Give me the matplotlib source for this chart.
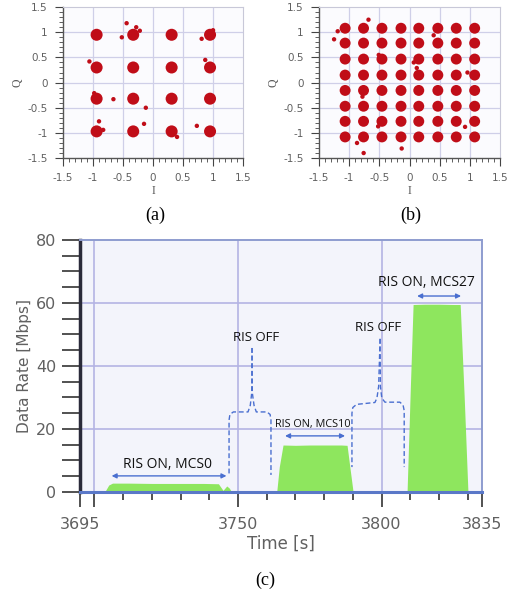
import numpy as np
import matplotlib
matplotlib.use("Agg")
from matplotlib import pyplot as plt

# ---- constellation data (a): 16-QAM ----
qam16_i = [-0.94, -0.33, 0.31, 0.95]
qam16_q = [0.95, 0.30, -0.32, -0.97]
out16_i = [-0.44, -0.52, -0.28, -0.22, -1.06, 0.87, -0.98, -0.66, -0.12, -0.15, -0.90, -0.83, 0.40, 0.73, 0.81, 1.00]
out16_q = [1.18, 0.90, 1.10, 1.03, 0.42, 0.45, -0.21, -0.33, -0.50, -0.82, -0.77, -0.94, -1.08, -0.86, 0.87, 1.04]

# ---- constellation data (b): 64-QAM ----
qam64_i = [-1.067, -0.762, -0.457, -0.141, 0.153, 0.469, 0.774, 1.079]
qam64_q = [1.08, 0.785, 0.467, 0.149, -0.156, -0.47, -0.77, -1.08]
out64_i = [-0.68, -1.25, -1.19, -0.78, -0.87, -0.76, -0.13, -0.52, 0.92, 0.96, 0.40, -0.51, 0.12, 0.07]
out64_q = [1.25, 0.86, 1.02, -0.28, -1.20, -1.40, -1.31, -0.87, -0.88, 0.20, 0.94, 0.55, 0.29, 0.40]

# ---- data rate (c) ----
t_mcs0 = [3703.6, 3705.0, 3706.3, 3712, 3720, 3730, 3738, 3743.2, 3744.8, 3746.1, 3747.0, 3747.8]
r_mcs0 = [0, 2.2, 2.8, 2.8, 2.7, 2.7, 2.7, 2.6, 0.5, 1.9, 1.2, 0]
t_mcs10 = [3763.5, 3764.4, 3765.7, 3770, 3775, 3780, 3786, 3788.0, 3789.1, 3790.1]
r_mcs10 = [0, 8, 14.9, 14.8, 14.9, 14.9, 14.9, 14.8, 7, 0]
t_mcs27 = [3808.9, 3810.0, 3811.0, 3815, 3820, 3825, 3827.4, 3828.8, 3830.1]
r_mcs27 = [0, 32, 59.5, 59.6, 59.6, 59.5, 59.5, 30, 0]

RED = "#c00d18"
GREEN = "#8ee65e"
BLUE = "#4a6fd0"
TICK_GRAY = "#606060"

fig = plt.figure(figsize=(5.13, 5.92), dpi=100)


def style_const(ax):
    ax.set_facecolor("#fbfbfe")
    ax.set_xlim(-1.5, 1.5)
    ax.set_ylim(-1.5, 1.5)
    ticks = [-1.5, -1, -0.5, 0, 0.5, 1, 1.5]
    ax.set_xticks(ticks)
    ax.set_yticks(ticks)
    ax.set_xticklabels(["-1.5", "-1", "-0.5", "0", "0.5", "1", "1.5"])
    ax.set_yticklabels(["-1.5", "-1", "-0.5", "0", "0.5", "1", "1.5"])
    ax.set_xticks(np.arange(-1.5, 1.51, 0.1), minor=True)
    ax.set_yticks(np.arange(-1.5, 1.51, 0.1), minor=True)
    ax.tick_params(which="major", length=6, width=0.8, color="#444", labelsize=7.5,
                   labelcolor=TICK_GRAY, pad=5)
    ax.tick_params(which="minor", length=3, width=0.6, color="#444")
    for x in [-1, -0.5, 0, 0.5, 1]:
        ax.axvline(x, color="#cfcfe8", lw=0.9, zorder=0)
        ax.axhline(x, color="#cfcfe8", lw=0.9, zorder=0)
    for s in ["left", "bottom"]:
        ax.spines[s].set_color("#555")
        ax.spines[s].set_linewidth(1.0)
    for s in ["top", "right"]:
        ax.spines[s].set_color("#c8c8d8")
        ax.spines[s].set_linewidth(0.8)
    ax.set_xlabel("I", family="Liberation Serif", fontsize=8.5, color="#555", labelpad=1)
    ax.set_ylabel("Q", family="Liberation Serif", fontsize=8.5, color="#555", labelpad=3)


ax_a = fig.add_axes([0.1228, 0.733, 0.351, 0.255])
gi, gq = np.meshgrid(qam16_i, qam16_q)
ax_a.scatter(gi.ravel(), gq.ravel(), s=75, color=RED, edgecolors="none", zorder=3)
ax_a.scatter(out16_i, out16_q, s=10, color=RED, edgecolors="none", zorder=3)
style_const(ax_a)

ax_b = fig.add_axes([0.6218, 0.733, 0.353, 0.255])
gi, gq = np.meshgrid(qam64_i, qam64_q)
ax_b.scatter(gi.ravel(), gq.ravel(), s=62, color=RED, edgecolors="none", zorder=3)
ax_b.scatter(out64_i, out64_q, s=10, color=RED, edgecolors="none", zorder=3)
style_const(ax_b)

fig.text(155 / 513, 1 - 215 / 592, "(a)", family="Liberation Serif", fontsize=13,
         ha="center", va="center")
fig.text(411 / 513, 1 - 215 / 592, "(b)", family="Liberation Serif", fontsize=13,
         ha="center", va="center")

# ---- panel (c) ----
ax = fig.add_axes([0.156, 0.169, 0.7836, 0.4257])
ax.set_facecolor("#f3f4fb")
ax.set_xlim(3695, 3835)
ax.set_ylim(0, 80)
for x in [3700, 3750, 3800]:
    ax.axvline(x, color="#b4b4e4", lw=1.2, zorder=0)
for y in [20, 40, 60]:
    ax.axhline(y, color="#b4b4e4", lw=1.2, zorder=0)

for t, r in [(t_mcs0, r_mcs0), (t_mcs10, r_mcs10), (t_mcs27, r_mcs27)]:
    ax.fill_between(t, r, 0, color=GREEN, lw=0, zorder=2)

ax.set_xticks([3695, 3700, 3750, 3800, 3835])
ax.set_xticklabels(["3695", "", "3750", "3800", "3835"])
ax.set_xticks([v for v in range(3710, 3831, 10) if v not in (3750, 3800)], minor=True)
ax.set_yticks([0, 20, 40, 60, 80])
ax.set_yticks(range(0, 81, 5), minor=True)
ax.tick_params(axis="x", which="major", length=11, width=1.2, color="#333",
               labelsize=11.5, labelcolor=TICK_GRAY, pad=7)
ax.tick_params(axis="x", which="minor", length=6, width=1.2, color="#333")
ax.tick_params(axis="y", which="both", length=13, width=1.2, color="#333",
               labelsize=11.5, labelcolor=TICK_GRAY, pad=4)
ax.spines["left"].set_color("#2a2a3a")
ax.spines["left"].set_linewidth(2.5)
ax.spines["bottom"].set_color("#5a78c8")
ax.spines["bottom"].set_linewidth(2.2)
for s in ["top", "right"]:
    ax.spines[s].set_color("#8e9ccf")
    ax.spines[s].set_linewidth(1.4)
ax.set_ylabel("Data Rate [Mbps]", fontsize=11, color=TICK_GRAY, labelpad=3)
ax.set_xlabel("Time [s]", fontsize=12, color=TICK_GRAY, labelpad=2)

txt = dict(family="Open Sans", color="#111", ha="center", va="center")
ax.text(3725.6, 8.8, "RIS ON, MCS0", fontsize=10, **txt)
ax.text(3756.3, 48.9, "RIS OFF", fontsize=9.5, **txt)
ax.text(3776.1, 21.4, "RIS ON, MCS10", fontsize=7.8, **txt)
ax.text(3798.8, 52.2, "RIS OFF", fontsize=9.5, **txt)
ax.text(3815.5, 66.4, "RIS ON, MCS27", fontsize=10, **txt)

arrow = dict(arrowstyle="<|-|>", color=BLUE, lw=1.0, mutation_scale=7,
             shrinkA=0, shrinkB=0)
ax.annotate("", xy=(3706, 5.1), xytext=(3746, 5.1), arrowprops=arrow)
ax.annotate("", xy=(3766.4, 17.8), xytext=(3787.3, 17.8), arrowprops=arrow)
ax.annotate("", xy=(3812.4, 62.2), xytext=(3827.7, 62.2), arrowprops=arrow)

# dashed brace-like connectors pointing to the "RIS OFF" labels
brace1_left_x = [3754.9, 3754.8, 3754.3, 3753.5, 3748.4, 3747.2, 3746.9, 3746.9]
brace1_left_y = [45.7, 31.5, 27.5, 25.4, 25.4, 24.6, 22.8, 5.4]
brace1_right_x = [3754.9, 3755.0, 3755.6, 3756.4, 3760.1, 3761.2, 3761.5, 3761.5]
brace1_right_y = [45.7, 31.5, 27.5, 25.4, 25.4, 24.6, 22.8, 5.4]
brace2_left_x = [3799.5, 3799.0, 3798.4, 3797.7, 3791.3, 3790.0, 3789.7, 3789.7]
brace2_left_y = [48.6, 33.5, 29.8, 28.4, 27.8, 26.8, 25.0, 7.9]
brace2_right_x = [3799.5, 3799.6, 3800.1, 3801.2, 3806.4, 3807.5, 3807.9, 3807.9]
brace2_right_y = [48.6, 33.5, 29.8, 28.5, 28.5, 27.6, 25.8, 7.9]
for bx, by in [(brace1_left_x, brace1_left_y), (brace1_right_x, brace1_right_y),
               (brace2_left_x, brace2_left_y), (brace2_right_x, brace2_right_y)]:
    ax.plot(bx, by, color=BLUE, lw=1.0, dashes=(3.5, 2), zorder=4)

fig.text(265 / 513, 1 - 580 / 592, "(c)", family="Liberation Serif", fontsize=13,
         ha="center", va="center")

fig.savefig("out.png", dpi=100, facecolor="w")
